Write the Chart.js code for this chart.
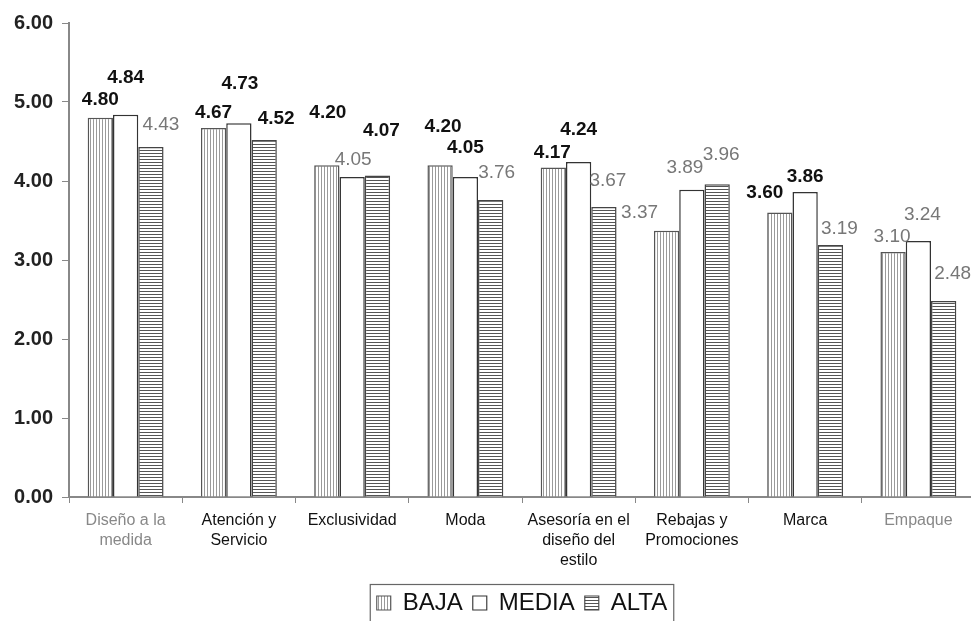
<!DOCTYPE html>
<html>
<head>
<meta charset="utf-8">
<script src="https://cdn.jsdelivr.net/npm/chart.js@4/dist/chart.umd.min.js"></script>
<style>
  html, body { margin: 0; padding: 0; background: #fff; }
  #wrap { width: 971px; height: 621px; overflow: hidden; position: relative; }
  #chart { display: block; }
</style>
</head>
<body>
<div id="wrap"><canvas id="chart" width="1000" height="640"></canvas></div>
<script>
// categorías y promedios por nivel
const categories = [
    ['Diseño a la', 'medida'],
    ['Atención y', 'Servicio'],
    'Exclusividad',
    'Moda',
    ['Asesoría en el', 'diseño del', 'estilo'],
    ['Rebajas y', 'Promociones'],
    'Marca',
    'Empaque'
];
const baja  = [4.80, 4.67, 4.20, 4.20, 4.17, 3.37, 3.60, 3.10];
const media = [4.84, 4.73, 4.05, 4.05, 4.24, 3.89, 3.86, 3.24];
const alta  = [4.43, 4.52, 4.07, 3.76, 3.67, 3.96, 3.19, 2.48];
const yTicks = [0, 1, 2, 3, 4, 5, 6];

// desplazamiento de cada etiqueta respecto a la punta de su barra (px)
const labelDx = [
    [0, 0, 1, 3, -1, -27, -15, -1],
    [0, 1, 1, 0, 0, -7, 0, 4],
    [10, 12, 4, 6, 4, 4, 9, 9]
];
const labelDy = [
    [-18, -15, -52, -38, -15, -18, -20, -15],
    [-37, -40, -17, -29, -32, -22, -15, -26],
    [-22, -21, -45, -27, -26, -29, -16, -27]
];
// true = negrita negra, false = gris normal
const labelBold = [
    [true, true, true, true, true, false, true, false],
    [true, true, false, true, true, false, true, false],
    [false, true, true, false, false, false, false, false]
];

const canvas = document.getElementById('chart');
const ctx = canvas.getContext('2d');

// rayado para rellenar las barras
function stripes(vertical, color, step) {
    const c = document.createElement('canvas');
    c.width = step; c.height = step;
    const g = c.getContext('2d');
    g.fillStyle = '#fff';
    g.fillRect(0, 0, step, step);
    g.fillStyle = color;
    if (vertical) g.fillRect(0, 0, 1, step);
    else g.fillRect(0, 0, step, 1);
    return ctx.createPattern(c, 'repeat');
}

const FONT = "'Liberation Sans', Arial, sans-serif";
Chart.defaults.font.family = FONT;

const valueLabels = {
    id: 'valueLabels',
    afterDatasetsDraw(chart) {
        const c = chart.ctx;
        c.save();
        c.textAlign = 'center';
        c.textBaseline = 'middle';
        chart.data.datasets.forEach((ds, di) => {
            chart.getDatasetMeta(di).data.forEach((bar, i) => {
                const bold = labelBold[di][i];
                c.font = (bold ? 'bold ' : '') + '19px ' + FONT;
                c.fillStyle = bold ? '#111' : '#777';
                c.fillText(ds.data[i].toFixed(2), bar.x + labelDx[di][i], bar.y + labelDy[di][i]);
            });
        });
        c.restore();
    }
};

// marco alrededor de la leyenda
const legendFrame = {
    id: 'legendFrame',
    afterDraw(chart) {
        const lg = chart.legend;
        if (!lg || !lg.legendHitBoxes.length) return;
        const boxes = lg.legendHitBoxes;
        const left = Math.min(...boxes.map(b => b.left)) - 7;
        const right = Math.max(...boxes.map(b => b.left + b.width)) + 6;
        const c = chart.ctx;
        c.save();
        c.strokeStyle = '#666';
        c.lineWidth = 1.2;
        c.strokeRect(left + 0.5, lg.top + 3.5, right - left, lg.height + 10);
        c.restore();
    }
};

const barBorder = { top: 1.5, left: 1.5, right: 1.5, bottom: 0 };

new Chart(canvas, {
    type: 'bar',
    data: {
        labels: categories,
        datasets: [
            {
                label: 'BAJA',
                data: baja,
                backgroundColor: stripes(true, '#9a9a9a', 3),
                borderColor: '#555',
                borderWidth: barBorder
            },
            {
                label: 'MEDIA',
                data: media,
                backgroundColor: '#fff',
                borderColor: '#333',
                borderWidth: barBorder
            },
            {
                label: 'ALTA',
                data: alta,
                backgroundColor: stripes(false, '#555', 3),
                borderColor: '#444',
                borderWidth: barBorder
            }
        ]
    },
    options: {
        responsive: false,
        animation: false,
        categoryPercentage: 0.67,
        barPercentage: 1.0,
        layout: { padding: { top: 23, right: 25, bottom: 15, left: 0 } },
        plugins: {
            tooltip: { enabled: false },
            legend: {
                position: 'bottom',
                fullSize: false,
                labels: {
                    color: '#111',
                    font: { size: 24 },
                    boxWidth: 14,
                    boxHeight: 14,
                    padding: 10
                }
            }
        },
        scales: {
            y: {
                min: 0,
                max: 6,
                afterBuildTicks: (s) => { s.ticks = yTicks.map(v => ({ value: v })); },
                afterFit: (s) => { s.width = 69; },
                border: { color: '#888', width: 2 },
                grid: { drawOnChartArea: false, tickLength: 7, color: '#888' },
                ticks: {
                    padding: 9,
                    color: '#222',
                    font: { size: 20, weight: 'bold' },
                    callback: (v) => Number(v).toFixed(2)
                }
            },
            x: {
                afterFit: (s) => { s.height = 84; },
                border: { color: '#888', width: 2 },
                grid: { drawOnChartArea: false, tickLength: 6, color: '#888', offset: true },
                ticks: {
                    padding: 8,
                    maxRotation: 0,
                    autoSkip: false,
                    font: { size: 16, lineHeight: 1.25 },
                    color: (c) => (c.index === 0 || c.index === 7) ? '#888' : '#111'
                }
            }
        }
    },
    plugins: [valueLabels, legendFrame]
});
</script>
</body>
</html>
